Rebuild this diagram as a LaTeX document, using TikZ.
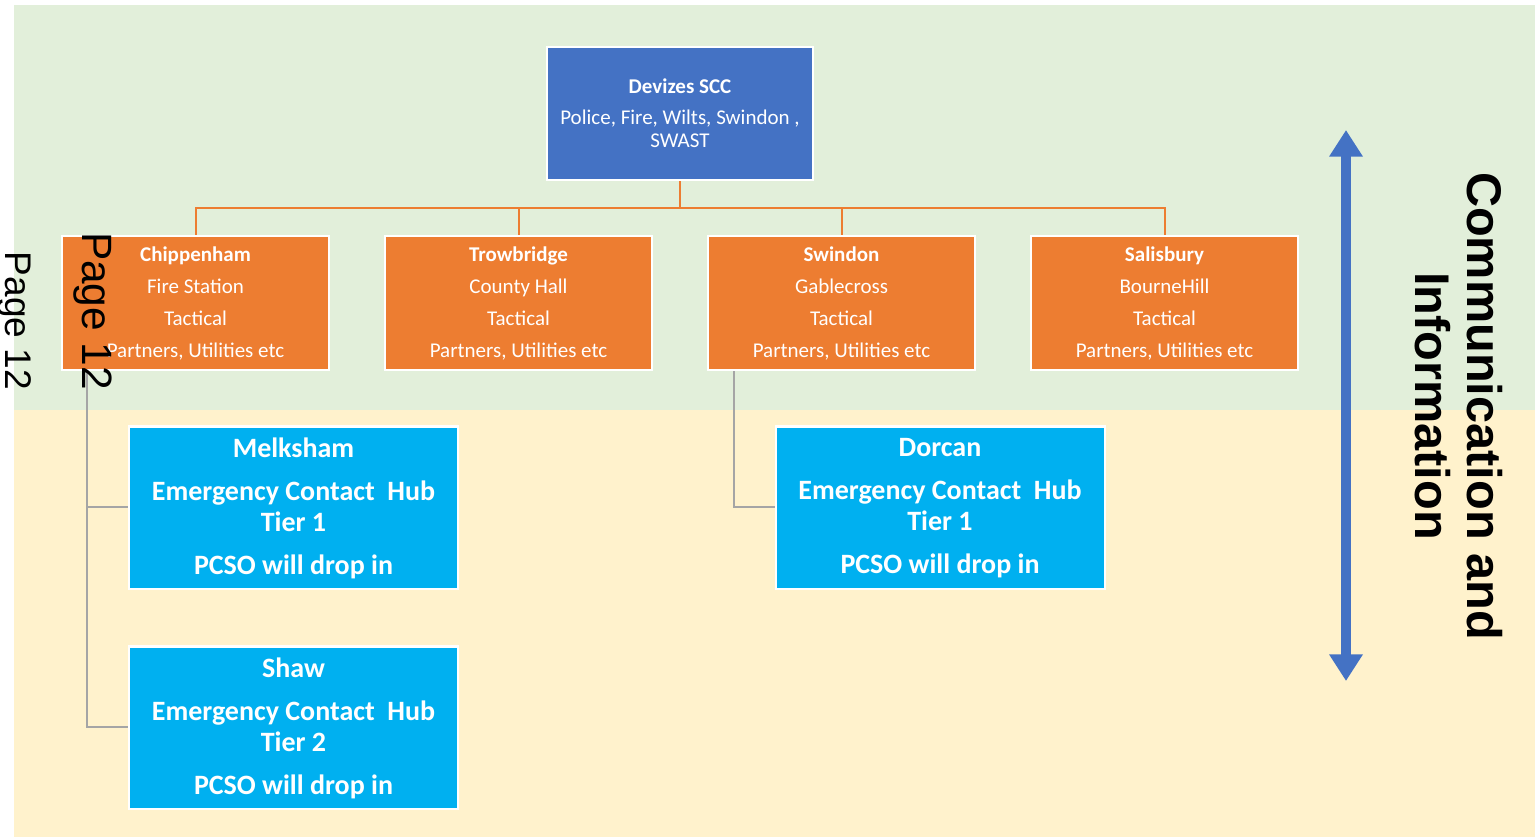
\documentclass[tikz,border=0pt]{standalone}
\usepackage{fontspec}
\setmainfont{Carlito}
\newfontfamily\pagefont{Liberation Sans}
\usetikzlibrary{arrows.meta}
\definecolor{bandgreen}{HTML}{E2EFDA}
\definecolor{bandyellow}{HTML}{FFF2CC}
\definecolor{sccblue}{HTML}{4472C4}
\definecolor{tacorange}{HTML}{ED7D31}
\definecolor{hubblue}{HTML}{00B0F0}
\definecolor{linkgrey}{HTML}{A5A5A5}
\tikzset{
  sccbox/.style={draw=white, line width=1.5pt, fill=sccblue, text=white, minimum width=199.5pt, minimum height=99.75pt, inner sep=0pt, align=center, font=\fontsize{15.75}{17.25}\selectfont},
  tacbox/.style={draw=white, line width=1.5pt, fill=tacorange, text=white, minimum width=200.25pt, minimum height=100.5pt, inner sep=0pt, align=center, font=\fontsize{15.75}{24}\selectfont},
  hubbox/.style={draw=white, line width=1.5pt, fill=hubblue, text=white, minimum width=246.75pt, minimum height=121.5pt, inner sep=0pt, align=center, font=\bfseries\fontsize{21}{23.25}\selectfont},
  tacline/.style={draw=tacorange, line width=1.5pt},
  hubline/.style={draw=linkgrey, line width=1.5pt},
  pagelabel/.style={rotate=-90, inner sep=0pt, text=black},
}
\begin{document}
\begin{tikzpicture}[x=0.75pt,y=0.75pt,yscale=-1]
\path[use as bounding box] (0,0) rectangle (1535,838);

%Shape: Rectangle [bands]
\fill[bandgreen] (14,5) rectangle (1535,410);
\fill[bandyellow] (14,410) rectangle (1535,837);

%Straight Lines [connectors]
\coordinate (bus) at (680,208);
\node[sccbox] (devizes) at (680,113.5) {};
\node[tacbox] (chip) at (195.5,303) {};
\node[tacbox] (trow) at (518.5,303) {};
\node[tacbox] (swin) at (841.5,303) {};
\node[tacbox] (salis) at (1164.5,303) {};
\node[hubbox] (melk) at (293.5,507) {};
\node[hubbox] (shaw) at (293.5,727) {};
\node[hubbox] (dorcan) at (940,507) {};
\draw[tacline] (devizes.south) -- (bus);
\draw[tacline] (chip.north) -- (chip.north |- bus) -- (salis.north |- bus) -- (salis.north);
\draw[tacline] (trow.north) -- (trow.north |- bus);
\draw[tacline] (swin.north) -- (swin.north |- bus);
\draw[hubline] ([xshift=19.5pt]chip.south west) |- (melk.west);
\draw[hubline] ([xshift=19.5pt]chip.south west) |- (shaw.west);
\draw[hubline] ([xshift=20.25pt]swin.south west) |- (dorcan.west);

% Text Node
\node[sccbox] at (devizes) {\textbf{Devizes SCC}\\[6pt]Police, Fire, Wilts, Swindon ,\\SWAST};
% Text Node
\node[tacbox] at (chip) {\textbf{Chippenham}\\Fire Station\\Tactical\\Partners, Utilities etc};
% Text Node
\node[tacbox] at (trow) {\textbf{Trowbridge}\\County Hall\\Tactical\\Partners, Utilities etc};
% Text Node
\node[tacbox] at (swin) {\textbf{Swindon}\\Gablecross\\Tactical\\Partners, Utilities etc};
% Text Node
\node[tacbox] at (salis) {\textbf{Salisbury}\\BourneHill\\Tactical\\Partners, Utilities etc};
% Text Node
\node[hubbox, yshift=-0.75pt] at (melk) {Melksham\\[9pt]Emergency Contact~~Hub\\Tier 1\\[9pt]PCSO will drop in};
% Text Node
\node[hubbox, yshift=-0.75pt] at (shaw) {Shaw\\[9pt]Emergency Contact~~Hub\\Tier 2\\[9pt]PCSO will drop in};
% Text Node
\node[hubbox, yshift=-0.75pt] at (dorcan) {Dorcan\\[9pt]Emergency Contact~~Hub\\Tier 1\\[9pt]PCSO will drop in};

%Straight Lines [double arrow]
\coordinate (arrtop) at (1346,130);
\coordinate (arrbot) at (1346,681);
\draw[sccblue, line width=7pt, arrows={Triangle[width=24pt,length=20pt]-Triangle[width=24pt,length=20pt]}] (arrtop) -- (arrbot);

% Text Node
\node[rotate=-90, align=center, font=\pagefont\bfseries\fontsize{36.5}{39}\selectfont] (comms) at (1459,406) {Communication and\\Information};
% Text Node
\node[pagelabel, font=\pagefont\fontsize{27.8}{28}\selectfont] (pagesmall) at (14.5,321) {Page 12};
% Text Node
\node[pagelabel, font=\pagefont\fontsize{31.8}{32}\selectfont] (pagebig) at (92.5,311) {Page 12};

\end{tikzpicture}
\end{document}
